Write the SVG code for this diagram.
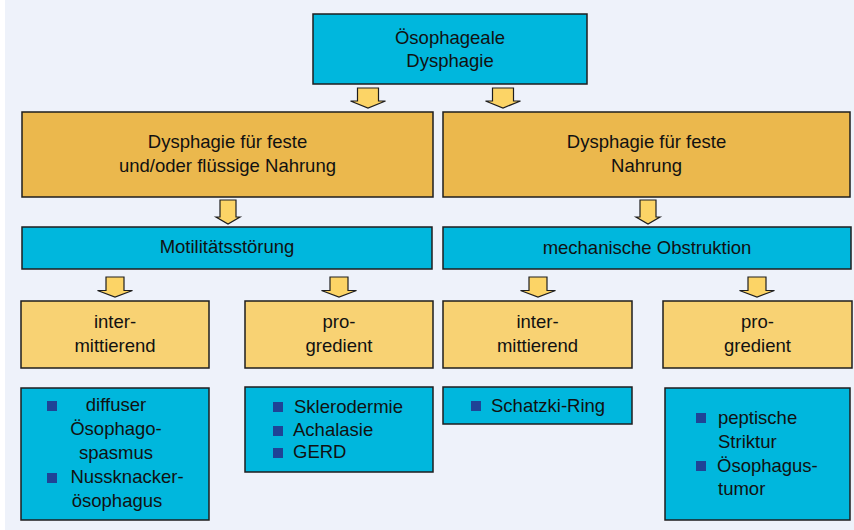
<svg xmlns="http://www.w3.org/2000/svg" width="854" height="530" viewBox="0 0 854 530">
<style>
.box{stroke:#1e1e1e;stroke-width:1.5}
.cy{fill:#00b7dd}
.or{fill:#ebb84d}
.ye{fill:#f8d273}
.arr{fill:#fcd466;stroke:#1e1e1e;stroke-width:1.2;stroke-linejoin:miter}
.t{font-family:"Liberation Sans",Arial,sans-serif;font-size:18.5px;fill:#111}
.m{text-anchor:middle}
.b{fill:#1f4396}
</style>
<rect x="0" y="0" width="854" height="530" fill="#eef2fa"/>
<rect x="0" y="0" width="5" height="530" fill="#ffffff"/>

<g id="connectors">
<path class="arr" d="M357.5,88 h21 v13 h7 l-17.5,7 l-17.5,-7 h7 z"/>
<path class="arr" d="M492.5,88 h21 v13 h7 l-17.5,7 l-17.5,-7 h7 z"/>
<path class="arr" d="M220,200 h16 v17 h4 l-12,7 l-12,-7 h4 z"/>
<path class="arr" d="M640,200 h16 v17 h4 l-12,7 l-12,-7 h4 z"/>
<path class="arr" d="M106,277 h18 v13.5 h8.5 l-17.5,6.5 l-17.5,-6.5 h8.5 z"/>
<path class="arr" d="M330,277 h18 v13.5 h8.5 l-17.5,6.5 l-17.5,-6.5 h8.5 z"/>
<path class="arr" d="M529,277 h18 v13.5 h8.5 l-17.5,6.5 l-17.5,-6.5 h8.5 z"/>
<path class="arr" d="M748,277 h18 v13.5 h8.5 l-17.5,6.5 l-17.5,-6.5 h8.5 z"/>
</g>

<g id="n-root">
<rect class="box cy" x="313" y="14" width="274" height="70"/>
<text class="t m" x="450" y="44">Ösophageale</text>
<text class="t m" x="450" y="67">Dysphagie</text>
</g>

<g id="n-fest-fluessig">
<rect class="box or" x="22" y="112" width="411" height="85"/>
<text class="t m" x="227.5" y="148">Dysphagie für feste</text>
<text class="t m" x="227.5" y="172">und/oder flüssige Nahrung</text>
</g>

<g id="n-fest">
<rect class="box or" x="443" y="112" width="407" height="85"/>
<text class="t m" x="646.5" y="148">Dysphagie für feste</text>
<text class="t m" x="646.5" y="172">Nahrung</text>
</g>

<g id="n-motilitaet">
<rect class="box cy" x="22" y="227" width="410" height="42"/>
<text class="t m" x="227" y="253">Motilitätsstörung</text>
</g>

<g id="n-mechanisch">
<rect class="box cy" x="443" y="227" width="408" height="42"/>
<text class="t m" x="647" y="254">mechanische Obstruktion</text>
</g>

<g id="n-inter-1">
<rect class="box ye" x="21" y="301" width="188" height="67"/>
<text class="t m" x="115" y="328">inter-</text>
<text class="t m" x="115" y="352">mittierend</text>
</g>

<g id="n-pro-1">
<rect class="box ye" x="245" y="301" width="188" height="67"/>
<text class="t m" x="339" y="328">pro-</text>
<text class="t m" x="339" y="352">gredient</text>
</g>

<g id="n-inter-2">
<rect class="box ye" x="443" y="301" width="189" height="67"/>
<text class="t m" x="537.5" y="328">inter-</text>
<text class="t m" x="537.5" y="352">mittierend</text>
</g>

<g id="n-pro-2">
<rect class="box ye" x="663" y="301" width="189" height="67"/>
<text class="t m" x="757.5" y="328">pro-</text>
<text class="t m" x="757.5" y="352">gredient</text>
</g>

<g id="n-list-1">
<rect class="box cy" x="21" y="388" width="188" height="132"/>
<rect class="b" x="47" y="401" width="10" height="10"/>
<text class="t m" x="116" y="411">diffuser</text>
<text class="t m" x="116" y="435">Ösophago-</text>
<text class="t m" x="116" y="459">spasmus</text>
<rect class="b" x="47" y="473" width="10" height="10"/>
<text class="t m" x="127" y="483">Nussknacker-</text>
<text class="t m" x="117" y="507">ösophagus</text>
</g>

<g id="n-list-2">
<rect class="box cy" x="245" y="387" width="188" height="85"/>
<rect class="b" x="273" y="402" width="10" height="10"/>
<text class="t" x="294" y="413">Sklerodermie</text>
<rect class="b" x="273" y="426" width="10" height="10"/>
<text class="t" x="293" y="436">Achalasie</text>
<rect class="b" x="273" y="448" width="10" height="10"/>
<text class="t" x="293" y="458">GERD</text>
</g>

<g id="n-list-3">
<rect class="box cy" x="443" y="387" width="189" height="37"/>
<rect class="b" x="471" y="401" width="10" height="10"/>
<text class="t" x="491" y="412">Schatzki-Ring</text>
</g>

<g id="n-list-4">
<rect class="box cy" x="665" y="388" width="185" height="132"/>
<rect class="b" x="696" y="413" width="10" height="10"/>
<text class="t" x="718" y="424">peptische</text>
<text class="t" x="718" y="448">Striktur</text>
<rect class="b" x="696" y="461" width="10" height="10"/>
<text class="t" x="717" y="472">Ösophagus-</text>
<text class="t" x="718" y="495">tumor</text>
</g>
</svg>
